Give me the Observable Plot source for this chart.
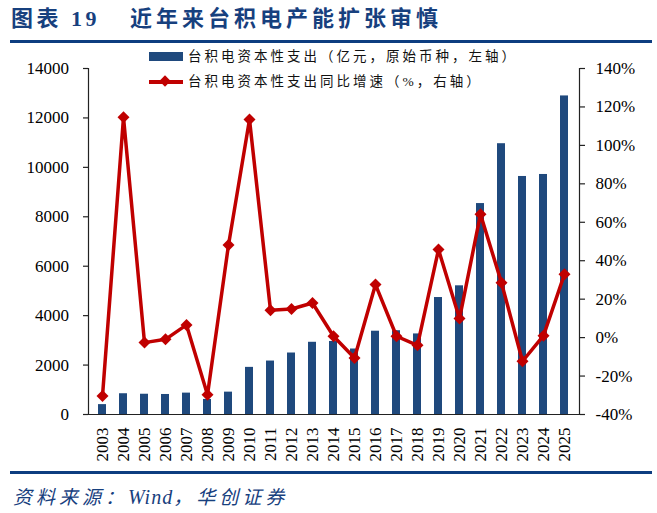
<!DOCTYPE html>
<html>
<head>
<meta charset="utf-8">
<script src="https://cdn.jsdelivr.net/npm/d3@7"></script>
<script src="https://cdn.jsdelivr.net/npm/@observablehq/plot@0.6"></script>
<style>
  html, body { margin: 0; padding: 0; background: #fff; }
  #wrap { position: relative; width: 657px; height: 513px; overflow: hidden; font-family: 'Liberation Serif', 'Noto Sans CJK SC', serif; }
  .abs { position: absolute; white-space: nowrap; }
  #chart { position: absolute; left: 0; top: 0; }
</style>
</head>
<body>
<div id="wrap">
  <div id="chart"></div>
  <div class="abs" style="left:11px; top:5px; font-size:22px; font-weight:700; color:#17407e; letter-spacing:3.5px; line-height:28px;">图表 19</div>
  <div class="abs" style="left:130px; top:5px; font-size:22px; font-weight:700; color:#17407e; letter-spacing:4px; line-height:28px;">近年来台积电产能扩张审慎</div>
  <div class="abs" style="left:10px; top:40px; width:642px; height:3px; background:#0d3d80;"></div>
  <div class="abs" style="left:10px; top:471px; width:642px; height:3px; background:#0d3d80;"></div>
  <div class="abs" style="left:13px; top:484px; font-size:19px; font-style:italic; color:#17407e; line-height:26px;"><span style="letter-spacing:4px;">资料来源：</span><span style="letter-spacing:1px; font-size:20px;">Wind</span><span style="letter-spacing:4px;">，华创证券</span></div>
  <!-- legend -->
  <div class="abs" style="left:149px; top:52px; width:34px; height:9px; background:#1f497d;"></div>
  <div class="abs" id="leg1" style="left:188px; top:47px; font-size:13.5px; letter-spacing:3px; line-height:20px; color:#111;"></div>
  <div class="abs" style="left:149px; top:80px; width:34px; height:4px; background:#c00000;"></div>
  <div class="abs" style="left:161px; top:77px; width:8px; height:8px; background:#c00000; transform:rotate(45deg);"></div>
  <div class="abs" id="leg2" style="left:188px; top:72px; font-size:13.5px; letter-spacing:3px; line-height:20px; color:#111;"></div>
</div>
<script>
const years = ["2003","2004","2005","2006","2007","2008","2009","2010","2011","2012","2013","2014","2015","2016","2017","2018","2019","2020","2021","2022","2023","2024","2025"];
const capex = [400, 840, 820, 810, 865, 610, 905, 1907, 2163, 2488, 2922, 2955, 2650, 3370, 3390, 3260, 4733, 5207, 8535, 10957, 9631, 9712, 12890];
const growth = [-30.4, 114.6, -2.6, -0.9, 6.6, -29.7, 48.2, 113.5, 14.2, 14.9, 18.0, 0.7, -10.6, 27.6, 0.7, -4.0, 45.8, 9.9, 64.2, 28.5, -12.3, 1.0, 33.0];
const leftTicks = [0, 2000, 4000, 6000, 8000, 10000, 12000, 14000];
const rightTicks = [-40, -20, 0, 20, 40, 60, 80, 100, 120, 140];
const legendLabels = ["台积电资本性支出（亿元，原始币种，左轴）", "台积电资本性支出同比增速（%，右轴）"];

document.getElementById("leg1").textContent = legendLabels[0];
document.getElementById("leg2").textContent = legendLabels[1];

const rMin = -40, rMax = 140, lMax = 14000;
const toLeft = g => (g - rMin) * lMax / (rMax - rMin);
const fromLeft = v => v * (rMax - rMin) / lMax + rMin;

const data = years.map((y, i) => ({year: y, capex: capex[i], growth: growth[i]}));

const chart = Plot.plot({
  width: 657,
  height: 513,
  marginTop: 68,
  marginBottom: 99,
  marginLeft: 88,
  marginRight: 78,
  style: {fontFamily: "'Liberation Serif', serif", fontSize: "17px", color: "#000", background: "transparent"},
  x: {domain: years, paddingInner: 0.61, paddingOuter: 0.305, label: null},
  y: {domain: [0, lMax], label: null},
  marks: [
    Plot.barY(data, {x: "year", y: "capex", fill: "#1f497d"}),
    Plot.ruleY([0], {stroke: "#222", strokeWidth: 1.2}),
    Plot.frame({anchor: "left", stroke: "#222", strokeWidth: 1.2}),
    Plot.frame({anchor: "right", stroke: "#222", strokeWidth: 1.2}),
    Plot.axisY({anchor: "left", label: null, ticks: leftTicks, tickFormat: d => String(d), tickSize: 5, tickPadding: 14.5, stroke: "#222", strokeWidth: 1.2}),
    Plot.axisY({anchor: "right", label: null, ticks: rightTicks.map(toLeft), tickFormat: v => Math.round(fromLeft(v)) + "%", tickSize: 5, tickPadding: 11, stroke: "#222", strokeWidth: 1.2}),
    Plot.axisX({anchor: "bottom", label: null, tickSize: 0, tickRotate: -90, tickPadding: 13, fontSize: 17}),
    Plot.line(data, {x: "year", y: d => toLeft(d.growth), stroke: "#c00000", strokeWidth: 3.5, strokeLinejoin: "miter"}),
    Plot.dot(data, {x: "year", y: d => toLeft(d.growth), symbol: "diamond2", r: 5.4, fill: "#c00000", stroke: "none"})
  ]
});
document.getElementById("chart").appendChild(chart);
</script>
</body>
</html>
